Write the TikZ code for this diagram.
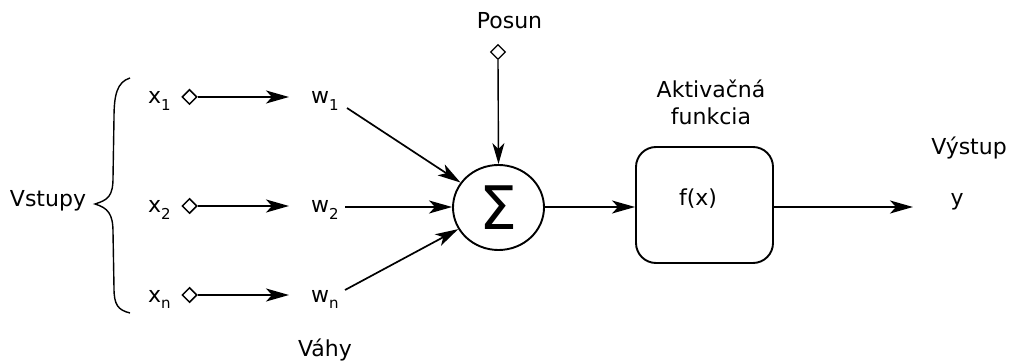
\documentclass[tikz,border=0pt]{standalone}
\usepackage{fontspec}
\setmainfont{DejaVu Sans}
\usetikzlibrary{arrows.meta,shapes.geometric}
\newcommand{\lowsub}[1]{\raisebox{-0.3em}{\fontsize{15}{15}\selectfont #1}}
\begin{document}
\begin{tikzpicture}[x=1pt,y=-1pt,
  lbl/.style={font=\fontsize{22}{26}\selectfont, inner sep=0pt},
  port/.style={diamond, draw, line width=1.5pt, inner sep=0pt, minimum width=15pt, minimum height=15pt},
  conn/.style={line width=1.7pt, -{Stealth[length=23pt,width=13pt,inset=6pt]}},
  thin conn/.style={line width=1.4pt, -{Stealth[length=21pt,width=12pt,inset=6pt]}}]
\useasboundingbox (0,0) rectangle (1009,363);
% inputs
\node[lbl, anchor=base] (vstupy) at (48,207) {Vstupy};
\draw[line width=1.4pt] (130,78) .. controls (117,82) and (114,95) .. (114,118)
  -- (113,178) .. controls (113,196) and (108,200) .. (95,204)
  .. controls (108,208) and (113,214) .. (113,232)
  -- (114,288) .. controls (114,305) and (118,310) .. (130,313);
\foreach \i/\s/\yb/\yd in {1/1/104/97, 2/2/213/206, n/n/302/295}{
  \node[lbl, anchor=base west] (x\i) at (148,\yb) {x\lowsub{\s}};
  \node[port] (d\i) at (189.5,\yd) {};
  \node[lbl, anchor=base west] (w\i) at (311,\yb) {w\lowsub{\s}};
  \coordinate (t\i) at (289,\yd);
  \draw[conn] (d\i.east) -- (t\i);
}
\node[lbl, anchor=base] (vahy) at (325,356) {Váhy};
% summation
\node[ellipse, draw, line width=1.9pt, minimum width=91pt, minimum height=85pt, inner sep=0pt,
  font=\fontsize{60}{62}\selectfont] (sum) at (498.5,207.5) {Σ};
\coordinate (s1) at (347,108);
\coordinate (s2) at (345,207);
\coordinate (s3) at (345,290);
\draw[conn] (s1) -- (sum);
\draw[conn] (s2) -- (sum.west |- s2);
\draw[conn] (s3) -- (sum);
% bias
\node[lbl, anchor=base] (posun) at (509.5,29) {Posun};
\node[port, line width=1.2pt, minimum width=15pt, minimum height=15pt] (db) at (498,52) {};
\draw[thin conn] (db.south) -- (sum.north);
% activation
\node[draw, line width=1.9pt, rounded corners=20pt, minimum width=137pt, minimum height=116pt] (fx) at (704.5,205) {};
\node[lbl, anchor=base] (fxl) at (698,206) {f(x)};
\node[lbl, anchor=base] (akt1) at (711,98) {Aktivačná};
\node[lbl, anchor=base] (akt2) at (711,125) {funkcia};
\draw[conn] (sum.east |- 0,207) -- (fx.west |- 0,207);
% output
\coordinate (tout) at (913,207);
\draw[conn] (fx.east |- tout) -- (tout);
\node[lbl, anchor=base] (y) at (957,206) {y};
\node[lbl, anchor=base] (vystup) at (969,155) {Výstup};
\end{tikzpicture}
\end{document}
